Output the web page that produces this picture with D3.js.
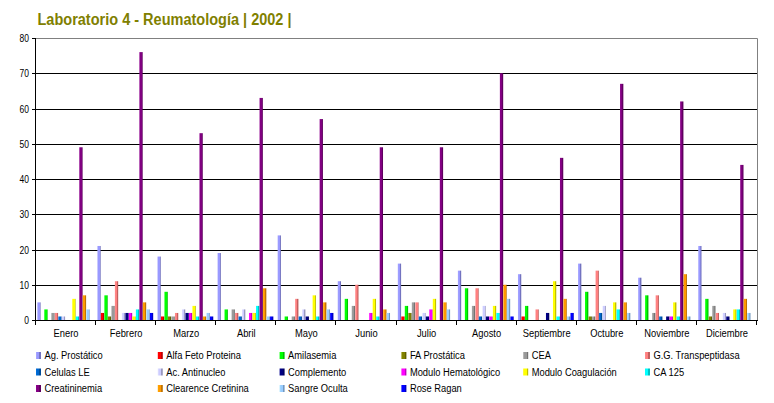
<!DOCTYPE html>
<html>
<head>
<meta charset="utf-8">
<script src="https://cdn.jsdelivr.net/npm/d3@7"></script>
<style>
  body { margin: 0; background: #fff; }
  text { font-family: "Liberation Sans", Arial, sans-serif; }
</style>
</head>
<body>
<div id="chart"></div>
<script>
let width = 774,
    height = 403

let months = ["Enero", "Febrero", "Marzo", "Abril", "Mayo", "Junio", "Julio", "Agosto", "Septiembre", "Octubre", "Noviembre", "Diciembre"]

let seriesNames = ["Ag. Prostático", "Alfa Feto Proteina", "Amilasemia", "FA Prostática", "CEA", "G.G. Transpeptidasa",
  "Celulas LE", "Ac. Antinucleo", "Complemento", "Modulo Hematológico", "Modulo Coagulación", "CA 125",
  "Creatininemia", "Clearence Cretinina", "Sangre Oculta", "Rose Ragan"]

let seriesColors = ["#9999FF", "#FF0000", "#00FF00", "#808000", "#999999", "#FF8080",
  "#0066CC", "#CCCCFF", "#000080", "#FF00FF", "#FFFF00", "#00FFFF",
  "#800080", "#FF9900", "#99CCFF", "#0000FF"]

// one array per series, Enero..Diciembre
let agProstatico     = [5, 21, 18, 19, 24, 11, 16, 14, 13, 16, 12, 21]
let alfaFeto         = [0, 2, 1, 0, 0, 0, 1, 0, 1, 0, 0, 0]
let amilasemia       = [3, 7, 8, 3, 1, 6, 4, 9, 4, 8, 7, 6]
let faProstatica     = [0, 1, 1, 0, 0, 0, 2, 0, 0, 1, 0, 1]
let cea              = [2, 4, 1, 3, 1, 4, 5, 4, 0, 1, 2, 4]
let ggTranspep       = [2, 11, 2, 2, 6, 10, 5, 9, 3, 14, 7, 2]
let celulasLE        = [1, 0, 0, 1, 1, 0, 1, 1, 0, 2, 1, 0]
let acAntinucleo     = [1, 2, 3, 3, 3, 0, 2, 4, 0, 4, 0, 2]
let complemento      = [0, 2, 2, 0, 1, 0, 1, 1, 2, 0, 1, 1]
let moduloHemat      = [0, 2, 2, 2, 0, 2, 3, 1, 0, 0, 1, 0]
let moduloCoag       = [6, 1, 4, 2, 7, 6, 6, 4, 11, 5, 5, 3]
let ca125            = [1, 3, 1, 4, 1, 1, 0, 2, 1, 3, 1, 3]
let creatininemia    = [49, 76, 53, 63, 57, 49, 49, 70, 46, 67, 62, 44]
let clearence        = [7, 5, 1, 9, 5, 3, 5, 10, 6, 5, 13, 6]
let sangreOculta     = [3, 3, 2, 1, 3, 2, 3, 6, 1, 2, 1, 2]
let roseRagan        = [0, 2, 1, 1, 2, 0, 0, 1, 2, 0, 0, 0]

let seriesValues = [agProstatico, alfaFeto, amilasemia, faProstatica, cea, ggTranspep,
  celulasLE, acAntinucleo, complemento, moduloHemat, moduloCoag, ca125,
  creatininemia, clearence, sangreOculta, roseRagan]

let yTicks = [0, 10, 20, 30, 40, 50, 60, 70, 80]

let plot = {left: 36, right: 757, top: 38, bottom: 320}
let squeeze = 0.85   // text in the picture is a bit narrow

let svg = d3.select("#chart")
  .append("svg")
    .attr("width", width)
    .attr("height", height)

// darker right edge on each bar, like the old excel look
let defs = svg.append("defs")
seriesColors.forEach((c, i) => {
  let g = defs.append("linearGradient").attr("id", "g" + i)
  let dark = d3.color(c).darker(0.8).formatHex()
  g.append("stop").attr("offset", "0%").attr("stop-color", d3.color(c).brighter(0.3).formatHex())
  g.append("stop").attr("offset", "30%").attr("stop-color", c)
  g.append("stop").attr("offset", "68%").attr("stop-color", c)
  g.append("stop").attr("offset", "70%").attr("stop-color", dark)
  g.append("stop").attr("offset", "100%").attr("stop-color", dark)
})

function label(parent, x, y, txt, size, anchor) {
  return parent.append("text")
    .attr("transform", `translate(${x},${y}) scale(${squeeze},1)`)
    .attr("text-anchor", anchor)
    .style("font-size", size + "px")
    .text(txt)
}

let x0 = d3.scaleBand()
  .domain(months)
  .range([plot.left, plot.right])

let x1 = d3.scaleBand()
  .domain(d3.range(seriesNames.length))
  .range([1.3, 1.3 + 56])

let y = d3.scaleLinear()
  .domain([0, 80])
  .range([plot.bottom, plot.top])

// title
svg.append("text")
  .attr("x", 37.5)
  .attr("y", 25)
  .attr("textLength", 254)
  .attr("lengthAdjust", "spacingAndGlyphs")
  .style("font-size", "16px")
  .style("font-weight", "bold")
  .style("fill", "#808000")
  .text("Laboratorio 4 - Reumatología | 2002 |")

// gridlines
svg.append("g")
  .selectAll("line")
  .data(yTicks.filter(t => t > 0 && t < 80))
  .enter()
  .append("line")
    .attr("x1", plot.left)
    .attr("x2", plot.right)
    .attr("y1", d => Math.round(y(d)) + 0.5)
    .attr("y2", d => Math.round(y(d)) + 0.5)
    .attr("stroke", "#000")

// plot border top/right (gray)
svg.append("path")
  .attr("d", `M${plot.left},${plot.top + 0.5}H${plot.right + 0.5}V${plot.bottom}`)
  .attr("fill", "none")
  .attr("stroke", "#808080")

// bars
let groups = svg.append("g")
  .selectAll("g")
  .data(months)
  .enter()
  .append("g")
    .attr("transform", d => `translate(${x0(d)},0)`)

groups.selectAll("rect")
  .data((m, mi) => seriesValues.map((vals, si) => ({si: si, value: vals[mi]})))
  .enter()
  .filter(d => d.value > 0)
  .append("rect")
    .attr("x", d => x1(d.si))
    .attr("width", 3.3)
    .attr("y", d => y(d.value))
    .attr("height", d => y(0) - y(d.value))
    .attr("fill", d => "url(#g" + d.si + ")")

// y axis
let yAxis = svg.append("g")
yAxis.append("line")
  .attr("x1", plot.left - 0.5).attr("x2", plot.left - 0.5)
  .attr("y1", plot.top).attr("y2", plot.bottom + 1)
  .attr("stroke", "#000")
yTicks.forEach(t => {
  let ty = Math.round(y(t)) + 0.5
  yAxis.append("line")
    .attr("x1", plot.left - 4).attr("x2", plot.left)
    .attr("y1", ty).attr("y2", ty)
    .attr("stroke", "#000")
  label(yAxis, 29, ty + 3.5, t, 10, "end")
})

// x axis
let xAxis = svg.append("g")
xAxis.append("line")
  .attr("x1", plot.left - 1).attr("x2", plot.right + 1)
  .attr("y1", plot.bottom + 0.5).attr("y2", plot.bottom + 0.5)
  .attr("stroke", "#000")
months.concat([null]).forEach((m, i) => {
  let tx = Math.round(m ? x0(m) : plot.right) - 0.5
  xAxis.append("line")
    .attr("x1", tx).attr("x2", tx)
    .attr("y1", plot.bottom).attr("y2", plot.bottom + 5)
    .attr("stroke", "#000")
})
months.forEach(m => {
  label(xAxis, x0(m) + x0.bandwidth() / 2, 337, m, 11, "middle")
})

// legend
let legend = svg.append("g")
seriesNames.forEach((name, i) => {
  let col = i % 6, row = Math.floor(i / 6)
  let lx = 36 + col * 121.8
  let ly = 359 + row * 16.5
  legend.append("rect")
    .attr("x", lx)
    .attr("y", ly - 7)
    .attr("width", 5)
    .attr("height", 7)
    .attr("fill", "url(#g" + i + ")")
  label(legend, lx + 8.5, ly, name, 11, "start")
})
</script>
</body>
</html>
